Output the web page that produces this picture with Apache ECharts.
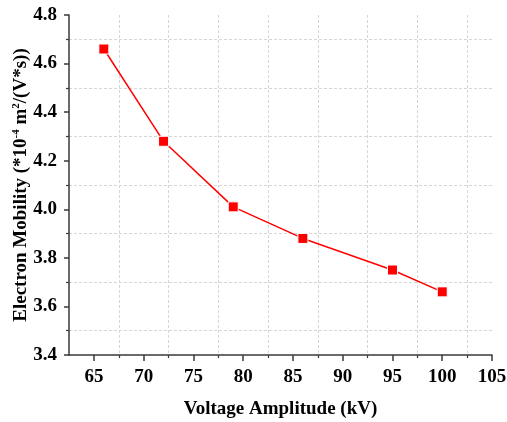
<!DOCTYPE html>
<html><head><meta charset="utf-8">
<script src="https://cdn.jsdelivr.net/npm/echarts@6/dist/echarts.min.js"></script>
<style>html,body{margin:0;padding:0;background:#fff}#c{width:507px;height:422px}</style>
</head><body><div id="c"></div>
<script>
const voltage = [66, 72, 79, 86, 95, 100];
const mobility = [4.66, 4.28, 4.01, 3.88, 3.75, 3.66];
const xTicks = [65, 70, 75, 80, 85, 90, 95, 100, 105];
const yTicks = [3.4, 3.6, 3.8, 4.0, 4.2, 4.4, 4.6, 4.8];

const W = 507, L = 69, R = 15, T = 15, B = 67;
const xMin = 62.5, xMax = 105;
const chart = echarts.init(document.getElementById('c'));
const font = 'Liberation Serif';
const axisColor = '#3a3a3a';
const gridDash = {color: '#d6d6d6', type: [3, 2], width: 1};
// second grid starts at the first labelled tick so that major/minor ticks line up
const L2 = L + (xTicks[0] - xMin) / (xMax - xMin) * (W - L - R);
chart.setOption({
  animation: false,
  grid: [
    {left: L, right: R, top: T, bottom: B, outerBoundsMode: 'none'},
    {left: L2, right: R, top: T, bottom: B, outerBoundsMode: 'none'}
  ],
  xAxis: [{
    gridIndex: 0, type: 'value', min: xMin, max: xMax, interval: 2.5,
    axisLine: {lineStyle: {color: axisColor, width: 1.5}},
    axisTick: {show: false}, axisLabel: {show: false}, splitLine: {show: false}
  }, {
    gridIndex: 1, type: 'value', min: xTicks[0], max: xTicks[xTicks.length - 1], interval: 5,
    name: 'Voltage Amplitude (kV)', nameLocation: 'middle', nameGap: 45, nameMoveOverlap: false,
    nameTextStyle: {fontFamily: font, fontWeight: 'bold', fontSize: 19, color: '#000', verticalAlign: 'top',
      padding: [0, L2 - L, 0, 0]},
    axisLine: {show: false},
    axisTick: {show: true, inside: false, length: 6, lineStyle: {color: axisColor, width: 1.5}},
    minorTick: {show: true, splitNumber: 2, length: 3, lineStyle: {color: axisColor, width: 1.2}},
    axisLabel: {fontFamily: font, fontWeight: 'bold', fontSize: 19, color: '#000', margin: 13},
    splitLine: {show: false},
    minorSplitLine: {show: true, lineStyle: gridDash}
  }],
  yAxis: [{
    gridIndex: 0, type: 'value', min: 3.4, max: 4.8, interval: 0.2,
    name: '{n|Electron Mobility (*10}{s|-4}{n| m}{s|2}{n|/(V*s))}', nameLocation: 'middle', nameGap: 38,
    nameMoveOverlap: false,
    nameTextStyle: {rich: {
      n: {fontFamily: font, fontWeight: 'bold', fontSize: 19, color: '#000'},
      s: {fontFamily: font, fontWeight: 'bold', fontSize: 11, color: '#000', padding: [0, 0, 9, 0]}
    }},
    axisLine: {show: true, lineStyle: {color: axisColor, width: 1.5}},
    axisTick: {show: true, inside: false, length: 5, lineStyle: {color: axisColor, width: 1.5}},
    minorTick: {show: true, splitNumber: 2, length: 3, lineStyle: {color: axisColor, width: 1.2}},
    axisLabel: {fontFamily: font, fontWeight: 'bold', fontSize: 19, color: '#000', margin: 12,
      formatter: v => { const t = yTicks.find(y => Math.abs(y - v) < 1e-6); return t !== undefined ? t.toFixed(1) : ''; }},
    splitLine: {show: false},
    minorSplitLine: {show: true, lineStyle: gridDash}
  }, {
    gridIndex: 1, type: 'value', min: 3.4, max: 4.8, show: false
  }],
  series: [{
    type: 'line', xAxisIndex: 0, yAxisIndex: 0,
    data: voltage.map((v, i) => [v, mobility[i]]),
    symbol: 'rect', symbolSize: 10,
    lineStyle: {color: '#ff0000', width: 1.5},
    itemStyle: {color: '#ff0000', borderColor: '#ffffff', borderWidth: 1}
  }]
});
</script></body></html>
